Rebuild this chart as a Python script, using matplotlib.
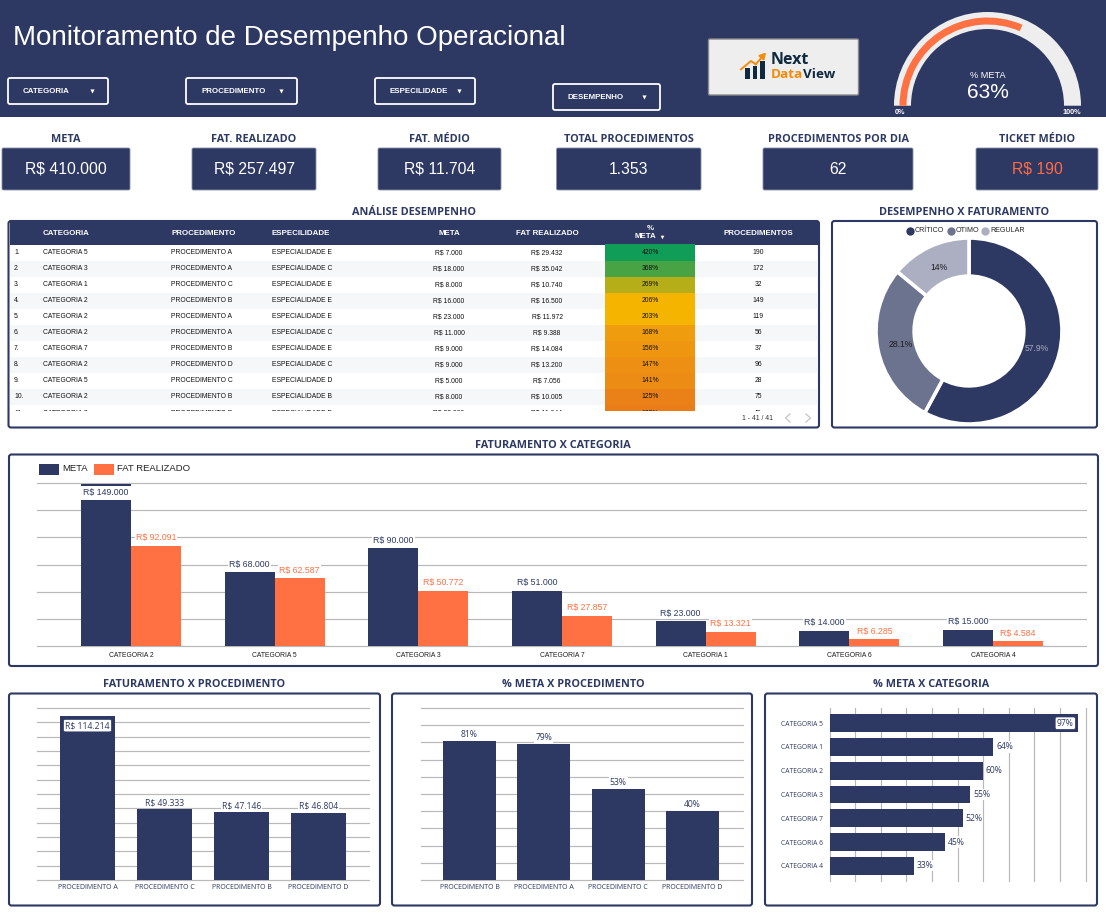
import matplotlib
matplotlib.use('Agg')
import matplotlib.pyplot as plt
from matplotlib.patches import FancyBboxPatch, Rectangle, Wedge
from matplotlib.transforms import Bbox, TransformedBbox

W, H = 1106, 913
NAVY = '#2d3963'
ORANGE = '#ff7043'
GRID = '#b8b8b8'
ARIAL = 'Liberation Sans'
TITLE_FONT = 'Open Sans'

# kpis
kpi_names = ['META', 'FAT. REALIZADO', 'FAT. MÉDIO', 'TOTAL PROCEDIMENTOS', 'PROCEDIMENTOS POR DIA', 'TICKET MÉDIO']
kpi_values = ['R$ 410.000', 'R$ 257.497', 'R$ 11.704', '1.353', '62', 'R$ 190']
gauge_value = 63
filters = ['CATEGORIA', 'PROCEDIMENTO', 'ESPECILIDADE', 'DESEMPENHO']

# table
t_cat = ['CATEGORIA 5', 'CATEGORIA 3', 'CATEGORIA 1', 'CATEGORIA 2', 'CATEGORIA 2', 'CATEGORIA 2',
         'CATEGORIA 7', 'CATEGORIA 2', 'CATEGORIA 5', 'CATEGORIA 2', 'CATEGORIA 3']
t_proc = ['PROCEDIMENTO A', 'PROCEDIMENTO A', 'PROCEDIMENTO C', 'PROCEDIMENTO B', 'PROCEDIMENTO A', 'PROCEDIMENTO A',
          'PROCEDIMENTO B', 'PROCEDIMENTO D', 'PROCEDIMENTO C', 'PROCEDIMENTO B', 'PROCEDIMENTO D']
t_esp = ['ESPECIALIDADE E', 'ESPECIALIDADE C', 'ESPECIALIDADE E', 'ESPECIALIDADE E', 'ESPECIALIDADE E', 'ESPECIALIDADE C',
         'ESPECIALIDADE E', 'ESPECIALIDADE C', 'ESPECIALIDADE D', 'ESPECIALIDADE B', 'ESPECIALIDADE D']
t_meta = [7000, 18000, 8000, 16000, 23000, 11000, 9000, 9000, 5000, 8000, 23000]
t_fat = [29432, 35042, 10740, 16500, 11972, 9388, 14084, 13200, 7056, 10005, 11044]
t_pct = [420, 368, 269, 206, 203, 168, 156, 147, 141, 125, 123]
t_n = [190, 172, 32, 149, 119, 56, 37, 96, 28, 75, 45]
pct_colors = ['#0f9d58', '#47a343', '#b5ae18', '#f4b400', '#f4b400', '#ef9c0e',
              '#ee9610', '#ed8f12', '#ed8c14', '#ea8018', '#ea7d18']

# donut
des_names = ['CRÍTICO', 'OTIMO', 'REGULAR']
des_values = [57.9, 28.1, 14.0]
des_labels = ['57.9%', '28.1%', '14%']

# faturamento x categoria
cat_names = ['CATEGORIA 2', 'CATEGORIA 5', 'CATEGORIA 3', 'CATEGORIA 7', 'CATEGORIA 1', 'CATEGORIA 6', 'CATEGORIA 4']
cat_meta = [149000, 68000, 90000, 51000, 23000, 14000, 15000]
cat_fat = [92091, 62587, 50772, 27857, 13321, 6285, 4584]

# faturamento x procedimento
fp_names = ['PROCEDIMENTO A', 'PROCEDIMENTO C', 'PROCEDIMENTO B', 'PROCEDIMENTO D']
fp_values = [114214, 49333, 47146, 46804]

# % meta x procedimento
mp_names = ['PROCEDIMENTO B', 'PROCEDIMENTO A', 'PROCEDIMENTO C', 'PROCEDIMENTO D']
mp_values = [81, 79, 53, 40]

# % meta x categoria
mc_names = ['CATEGORIA 5', 'CATEGORIA 1', 'CATEGORIA 2', 'CATEGORIA 3', 'CATEGORIA 7', 'CATEGORIA 6', 'CATEGORIA 4']
mc_values = [97, 64, 60, 55, 52, 45, 33]


def brl(v):
    return 'R$ ' + f'{v:,}'.replace(',', '.')


fig = plt.figure(figsize=(W / 100, H / 100), dpi=100, facecolor='white')
bg = fig.add_axes([0, 0, 1, 1])
bg.set_xlim(0, W)
bg.set_ylim(H, 0)
bg.axis('off')


def px_axes(x0, y0, x1, y1):
    ax = fig.add_axes([x0 / W, 1 - y1 / H, (x1 - x0) / W, (y1 - y0) / H])
    ax.patch.set_alpha(0)
    for s in ax.spines.values():
        s.set_visible(False)
    ax.tick_params(length=0)
    return ax


def box(x0, y0, x1, y1, fc='white', ec=NAVY, lw=1.5, r=2.5):
    p = FancyBboxPatch((x0, y0), x1 - x0, y1 - y0, boxstyle=f'round,pad=0,rounding_size={r}',
                       fc=fc, ec=ec, lw=lw)
    bg.add_patch(p)
    return p


def section(x, y, s):
    bg.text(x, y + 1.5, s, ha='center', va='center', color=NAVY, fontsize=7.8, family=TITLE_FONT, weight='bold')


def value_label(ax, x, y, s, dx=0, dy=3, color=NAVY, ha='center', va='bottom', boxed=False, font=TITLE_FONT,
                size=6.2, pad=0.12):
    if boxed:
        bb = dict(boxstyle='round,pad=0.2', fc='white', ec=NAVY, lw=0.5)
    else:
        bb = dict(boxstyle=f'square,pad={pad}', fc='white', ec='none')
    ax.annotate(s, (x, y), xytext=(dx, dy), textcoords='offset points', ha=ha, va=va,
                color=color, fontsize=size, family=font, bbox=bb, zorder=5)


def style_grid(ax, axis='y'):
    ax.grid(True, axis=axis, color=GRID, lw=0.85)
    ax.set_axisbelow(True)
    lines = ax.get_ygridlines() if axis == 'y' else ax.get_xgridlines()
    for ln in lines:
        ln.set_clip_on(False)


# header
bg.add_patch(Rectangle((0, 0), W, 117, fc=NAVY, ec='none'))
bg.text(13, 38, 'Monitoramento de Desempenho Operacional', color='white', fontsize=20, family=ARIAL, va='center')

filter_x = [(8, 108), (186, 297), (375, 475), (553, 660)]
filter_y = [(78, 104), (78, 104), (78, 104), (84, 110)]
filter_tx = [23, 201, 390, 568]
for name, (x0, x1), (y0, y1), tx in zip(filters, filter_x, filter_y, filter_tx):
    box(x0, y0, x1, y1, fc=NAVY, ec='white', lw=1.3, r=2)
    bg.text(tx, (y0 + y1) / 2 + 0.8, name, color='white', fontsize=5.7, family=ARIAL, va='center', weight='bold')
    bg.plot([x1 - 16], [(y0 + y1) / 2], marker='v', ms=3, color='white', mew=0)

# logo
box(708.5, 39, 858.5, 95, fc='#eeeeee', ec='#8a8a8a', lw=1, r=1.5)
for bx0, bx1, top in [(745.4, 750.4, 67.7), (752.5, 757.4, 65.7), (759.6, 765.2, 60.7)]:
    bg.add_patch(Rectangle((bx0, top), bx1 - bx0, 79.3 - top, fc='#10293f', ec='none'))
bg.annotate('', xy=(766, 52.5), xytext=(755.7, 64.3),
            arrowprops=dict(arrowstyle='-|>,head_width=0.2,head_length=0.35', color='#f58a0b', lw=1.4, shrinkA=0, shrinkB=0))
bg.plot([741, 751, 755.7], [69.3, 61, 64.3], color='#f58a0b', lw=1.4)
bg.text(770.5, 60, 'Next', color='#10293f', fontsize=11.5, family='Open Sans', weight='bold', va='center')
t1 = bg.text(770.5, 74, 'Data', color='#f58a0b', fontsize=9.7, family='Open Sans', weight='bold', va='center')
bg.annotate('View', xy=(1, 0.5), xycoords=t1, va='center', color='#10293f', fontsize=9.7, family='Open Sans', weight='bold')

# gauge
g = px_axes(894, 12, 1081, 105.7)
g.set_xlim(-93.5, 93.5)
g.set_ylim(0, 93.5)
g.axis('off')
g.add_patch(Wedge((0, 0), 93.5, 0, 180, width=17, fc='#eeeeee', ec='none'))
g.add_patch(Wedge((0, 0), 88, 180 * (1 - gauge_value / 100), 180, width=7, fc=ORANGE, ec='none'))
bg.text(987.5, 76, '% META', color='white', fontsize=6.6, family=ARIAL, ha='center', va='center')
bg.text(987.5, 92.5, f'{gauge_value}%', color='white', fontsize=15, family=ARIAL, ha='center', va='center')
bg.text(900, 113, '0%', color='white', fontsize=5.2, family=ARIAL, ha='center', va='center', weight='bold')
bg.text(1072, 113, '100%', color='white', fontsize=5.2, family=ARIAL, ha='center', va='center', weight='bold')

# kpi row
kpi_x = [(2, 130), (192, 316), (378, 501), (556.5, 701), (763, 913), (976, 1098)]
for i, (name, val, (x0, x1)) in enumerate(zip(kpi_names, kpi_values, kpi_x)):
    c = (x0 + x1) / 2
    section(c, 138, name)
    box(x0, 148, x1, 190, fc=NAVY, ec='#8a90a8', lw=0.6, r=1.5)
    bg.text(c, 169, val, color='#ff6b45' if i == 5 else 'white', fontsize=11.3, family=ARIAL, ha='center', va='center')

# table
section(414, 211, 'ANÁLISE DESEMPENHO')
box(8.5, 221, 819, 427.5, lw=1.5)
bg.add_patch(Rectangle((9.5, 222), 809, 23, fc=NAVY, ec='none'))
col_left = [43, 171, 272]
col_mid = [449, 547, 758]
head = dict(color='white', fontsize=5.7, family=ARIAL, weight='bold', va='center')
for x, s in zip(col_left, ['CATEGORIA', 'PROCEDIMENTO', 'ESPECILIDADE']):
    bg.text(x, 233.5, s, ha='left', **head)
for x, s in zip(col_mid, ['META', 'FAT REALIZADO', 'PROCEDIMENTOS']):
    bg.text(x, 233.5, s, ha='center', **head)
bg.text(650, 229, '%', ha='center', **head)
bg.text(645, 237, 'META', ha='center', **head)
bg.plot([661.5], [237], marker='v', ms=2.6, color='white', mew=0)

row_top = 244.5
row_h = 16.05
clip = Rectangle((9.5, 244), 808, 167, transform=bg.transData)
text_clip = TransformedBbox(Bbox([[9.5, 244], [817.5, 411]]), bg.transData)
for i in range(len(t_cat)):
    y0 = row_top + i * row_h
    yc = y0 + row_h / 2
    if i % 2 == 1:
        stripe = bg.add_patch(Rectangle((9.5, y0), 808, row_h, fc='#f6f7f9', ec='none'))
        stripe.set_clip_path(clip)
    cell = bg.add_patch(Rectangle((605, y0), 90, row_h, fc=pct_colors[i], ec='none'))
    cell.set_clip_path(clip)
    row = dict(color='#111111', fontsize=4.9, family=ARIAL, va='center')
    texts = [
        bg.text(14, yc, f'{i + 1}.', ha='left', **row),
        bg.text(43, yc, t_cat[i], ha='left', **row),
        bg.text(171, yc, t_proc[i], ha='left', **row),
        bg.text(272, yc, t_esp[i], ha='left', **row),
        bg.text(449, yc, brl(t_meta[i]), ha='center', **row),
        bg.text(547, yc, brl(t_fat[i]), ha='center', **row),
        bg.text(650, yc, f'{t_pct[i]}%', ha='center', **row),
        bg.text(758, yc, str(t_n[i]), ha='center', **row),
    ]
    for t in texts:
        t.set_clip_on(True)
        t.set_clip_box(text_clip)
bg.text(757.5, 418, '1 - 41 / 41', color='#333333', fontsize=4.9, family=ARIAL, ha='center', va='center')
bg.plot([790, 785.5, 790], [414, 418, 422], color='#c4c4c4', lw=0.9)
bg.plot([806, 810.5, 806], [414, 418, 422], color='#c4c4c4', lw=0.9)

# donut
section(964, 211, 'DESEMPENHO X FATURAMENTO')
box(832, 221, 1097, 427.5, lw=1.5)
donut = px_axes(876, 238, 1062, 424)
des_colors = [NAVY, '#6b738f', '#abafc1']
_, des_texts = donut.pie(des_values, colors=des_colors, startangle=90, counterclock=False, radius=1,
                         labels=des_labels, labeldistance=0.75,
                         textprops=dict(fontsize=6.2, family=ARIAL),
                         wedgeprops=dict(width=0.41, edgecolor='white', linewidth=2.6))
for t, c in zip(des_texts, ['#a9adbd', '#1c1c1c', '#1c1c1c']):
    t.set_color(c)
    t.set_ha('center')
    t.set_va('center')
donut.set_xlim(-1, 1)
donut.set_ylim(-1, 1)
for x, tx, name, c in zip([909.5, 950.5, 985], [915, 955.5, 990.5], des_names, des_colors):
    bg.plot([x], [231], marker='o', ms=6, color=c, mew=0)
    bg.text(tx, 231, name, color='#222222', fontsize=5.1, family=ARIAL, va='center')

# faturamento x categoria
section(553, 444, 'FATURAMENTO X CATEGORIA')
box(9, 454.5, 1098, 666, lw=1.5)
step = 143.67
a1 = px_axes(37, 483, 1086, 646)
a1.set_xlim((37 - 131) / step, (1086 - 131) / step)
a1.set_ylim(0, 150000)
a1.set_yticks(range(0, 150001, 25000))
a1.set_yticklabels([])
style_grid(a1)
xs = list(range(len(cat_names)))
bw = 50 / step
a1.bar([x - bw / 2 for x in xs], cat_meta, bw, color=NAVY)
a1.bar([x + bw / 2 for x in xs], cat_fat, bw, color=ORANGE)
a1.set_xticks(xs)
a1.set_xticklabels(cat_names, fontsize=4.9, family=ARIAL, color='#1c1c1c')
a1.tick_params(axis='x', pad=4)
for x, m, f in zip(xs, cat_meta, cat_fat):
    if m == max(cat_meta):
        value_label(a1, x - bw / 2, m, brl(m), dy=-3, va='top', font=ARIAL, size=6.3, pad=0.3)
    else:
        value_label(a1, x - bw / 2, m, brl(m), dy=2.5, font=ARIAL, size=6.3)
    value_label(a1, x + bw / 2, f, brl(f), dy=2.5, color=ORANGE, font=ARIAL, size=6.3)
bg.add_patch(Rectangle((39, 464), 20, 11, fc=NAVY, ec='none'))
bg.text(62, 468.5, 'META', color='#222222', fontsize=6.8, family=ARIAL, va='center')
bg.add_patch(Rectangle((94, 464), 20, 11, fc=ORANGE, ec='none'))
bg.text(117, 468.5, 'FAT REALIZADO', color='#222222', fontsize=6.8, family=ARIAL, va='center')

# faturamento x procedimento
section(194, 683, 'FATURAMENTO X PROCEDIMENTO')
box(9, 693.5, 380, 905.5, lw=1.5)
a2 = px_axes(37, 708, 369, 880)
a2.set_xlim((37 - 87.5) / 77, (369 - 87.5) / 77)
a2.set_ylim(0, 120000)
a2.set_yticks(range(0, 120001, 10000))
a2.set_yticklabels([])
style_grid(a2)
xs = list(range(len(fp_names)))
a2.bar(xs, fp_values, 55 / 77, color=NAVY)
a2.set_xticks(xs)
a2.set_xticklabels(fp_names, fontsize=5, family=TITLE_FONT, color=NAVY)
a2.tick_params(axis='x', pad=3)
for x, v in zip(xs, fp_values):
    if v == max(fp_values):
        value_label(a2, x, v, brl(v), dy=-3.5, va='top', boxed=True)
    else:
        value_label(a2, x, v, brl(v), dy=1.5)

# % meta x procedimento
section(573, 683, '% META X PROCEDIMENTO')
box(392, 693.5, 752, 905.5, lw=1.5)
a3 = px_axes(421, 708, 743, 880)
a3.set_xlim((421 - 469.5) / 74.3, (743 - 469.5) / 74.3)
a3.set_ylim(0, 100)
a3.set_yticks(range(0, 101, 10))
a3.set_yticklabels([])
style_grid(a3)
xs = list(range(len(mp_names)))
a3.bar(xs, mp_values, 53 / 74.3, color=NAVY)
a3.set_xticks(xs)
a3.set_xticklabels(mp_names, fontsize=5, family=TITLE_FONT, color=NAVY)
a3.tick_params(axis='x', pad=3)
for x, v in zip(xs, mp_values):
    value_label(a3, x, v, f'{v}%', dy=1.5)

# % meta x categoria
section(931, 683, '% META X CATEGORIA')
box(765, 693.5, 1097, 905.5, lw=1.5)
a4 = px_axes(829.5, 708, 1085.5, 881)
a4.set_xlim(0, 100)
a4.set_ylim(6.64, -0.64)
a4.set_xticks(range(0, 101, 10))
a4.set_xticklabels([])
style_grid(a4, 'x')
ys = list(range(len(mc_names)))
a4.barh(ys, mc_values, 17.5 / 23.7, color=NAVY)
a4.set_yticks(ys)
a4.set_yticklabels(mc_names, fontsize=4.9, family=TITLE_FONT, color=NAVY)
a4.tick_params(axis='y', pad=5)
for y, v in zip(ys, mc_values):
    if v == max(mc_values):
        value_label(a4, v, y, f'{v}%', dx=-3, dy=0, ha='right', va='center', boxed=True)
    else:
        value_label(a4, v, y, f'{v}%', dx=2, dy=0, ha='left', va='center')

fig.savefig('out.png', dpi=100)
